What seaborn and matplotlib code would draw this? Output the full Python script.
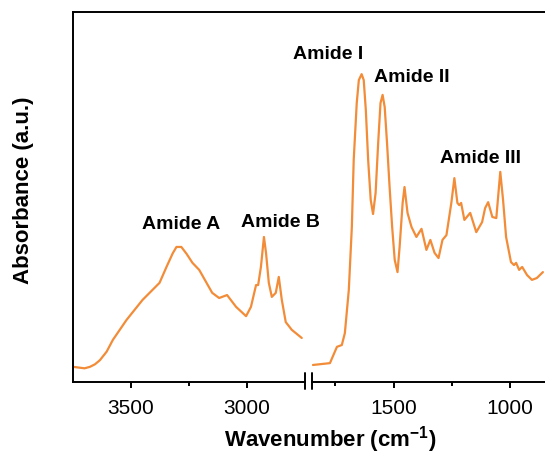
import numpy as np
import pandas as pd
import seaborn as sns
import matplotlib.pyplot as plt
from matplotlib.lines import Line2D

# high wavenumber region (Amide A / B)
wn_high = [3750, 3700, 3677, 3655, 3634, 3605, 3578, 3519, 3450, 3377, 3347, 3320,
           3304, 3283, 3260, 3235, 3206, 3150, 3120, 3086, 3047, 3004, 2983, 2961,
           2952, 2940, 2927, 2918, 2906, 2893, 2876, 2863, 2850, 2833, 2807, 2764]
abs_high = [4.1, 3.7, 4.1, 4.8, 5.9, 8.2, 11.4, 16.8, 22.2, 26.8, 31.1, 34.8,
            36.5, 36.5, 34.6, 32.2, 30.3, 24.1, 22.7, 23.5, 20.3, 17.8, 20.3, 26.2,
            26.2, 31.1, 39.2, 34.9, 26.8, 23.0, 24.1, 28.4, 22.2, 16.2, 14.1, 11.9]

# fingerprint region (Amide I / II / III)
wn_low = [1846, 1773, 1743, 1722, 1709, 1692, 1679, 1671, 1658, 1649, 1637, 1628,
          1619, 1609, 1598, 1588, 1577, 1566, 1556, 1547, 1538, 1528, 1517, 1506,
          1495, 1483, 1474, 1461, 1453, 1440, 1423, 1402, 1380, 1359, 1342, 1324,
          1307, 1290, 1273, 1252, 1239, 1226, 1218, 1210, 1196, 1171, 1145, 1120,
          1107, 1094, 1076, 1059, 1042, 1030, 1017, 996, 983, 974, 961, 948,
          927, 906, 885, 859]
abs_low = [4.6, 5.1, 9.5, 10.0, 13.2, 24.9, 41.9, 60.0, 75.4, 81.6, 83.2, 81.6,
           73.5, 60.0, 49.2, 45.4, 51.1, 64.6, 75.4, 77.6, 74.3, 64.6, 52.7, 41.9,
           33.0, 29.7, 36.5, 48.4, 52.7, 45.7, 41.9, 39.2, 41.4, 35.7, 38.4, 34.9,
           33.5, 38.4, 39.7, 48.4, 55.1, 48.4, 47.8, 48.4, 43.8, 45.7, 40.5, 43.2,
           47.0, 48.6, 44.6, 44.3, 56.8, 49.2, 39.2, 32.4, 31.6, 32.2, 30.3, 31.1,
           28.9, 27.6, 28.1, 29.7]

# band labels: text, wavenumber, height
labels_high = ["Amide A", "Amide B"]
labels_high_wn = [3285, 2858]
labels_high_y = [42.7, 43.2]
labels_low = ["Amide I", "Amide II", "Amide III"]
labels_low_wn = [1781, 1421, 1125]
labels_low_y = [88.4, 82.4, 60.5]

sns.set_style("ticks")
plt.rcParams['font.family'] = ['Liberation Sans', 'DejaVu Sans']
plt.rcParams['text.color'] = 'black'
plt.rcParams['xtick.color'] = 'black'
plt.rcParams['axes.edgecolor'] = 'black'
plt.rcParams['mathtext.fontset'] = 'custom'
plt.rcParams['mathtext.rm'] = 'Liberation Sans'
plt.rcParams['mathtext.bf'] = 'Liberation Sans:bold'

line_color = "#F28C38"
spine_w = 1.4

fig = plt.figure(figsize=(5.45, 4.54), dpi=100)
ax1 = fig.add_axes([73 / 545, 72 / 454, 232 / 545, 370 / 454])
ax2 = fig.add_axes([312 / 545, 72 / 454, 233 / 545, 370 / 454])
ax1.patch.set_visible(False)
ax2.patch.set_visible(False)

df_high = pd.DataFrame({"wn": wn_high, "A": abs_high})
df_low = pd.DataFrame({"wn": wn_low, "A": abs_low})
sns.lineplot(data=df_high, x="wn", y="A", ax=ax1, color=line_color, lw=1.6)
sns.lineplot(data=df_low, x="wn", y="A", ax=ax2, color=line_color, lw=1.6)

ax1.set_xlim(3750, 2750)
ax2.set_xlim(1850, 850)
for ax in (ax1, ax2):
    ax.set_ylim(0, 100)
    ax.set_xlabel("")
    ax.set_ylabel("")
    ax.set_yticks([])
    ax.spines["top"].set_visible(False)
    ax.spines["right"].set_visible(False)
    ax.spines["bottom"].set_linewidth(spine_w)
    ax.tick_params(axis="x", which="major", direction="out", length=4,
                   width=spine_w, labelsize=15, pad=8, labelcolor="black")
    ax.tick_params(axis="x", which="minor", direction="out", length=3,
                   width=spine_w)
ax1.spines["left"].set_linewidth(spine_w)
ax2.spines["left"].set_visible(False)

ax1.set_xticks([3500, 3000])
ax1.set_xticks([3250], minor=True)
ax2.set_xticks([1500, 1000])
ax2.set_xticks([1750, 1250], minor=True)

# axis break marks
ax1.plot([1, 1], [-0.018, 0.025], transform=ax1.transAxes, color="black",
         lw=spine_w, clip_on=False)
ax2.plot([0, 0], [-0.018, 0.025], transform=ax2.transAxes, color="black",
         lw=spine_w, clip_on=False)

# continuous top frame line
fig.add_artist(Line2D([73 / 545, 1.0], [442 / 454, 442 / 454],
                      transform=fig.transFigure, color="black", lw=spine_w))

for txt, x, y in zip(labels_high, labels_high_wn, labels_high_y):
    ax1.text(x, y, txt, ha="center", va="center", fontsize=14,
             fontweight="bold", zorder=5)
for txt, x, y in zip(labels_low, labels_low_wn, labels_low_y):
    ax2.text(x, y, txt, ha="center", va="center", fontsize=14,
             fontweight="bold", zorder=5)

fig.text(330 / 545, 14 / 454, "Wavenumber (cm$^{\\mathbf{-1}}$)", ha="center",
         va="center", fontsize=16, fontweight="bold")
fig.text(24 / 545, 1 - 190 / 454, "Absorbance (a.u.)", ha="center", va="center",
         rotation=90, fontsize=16, fontweight="bold")

fig.savefig("out.png", dpi=100)
